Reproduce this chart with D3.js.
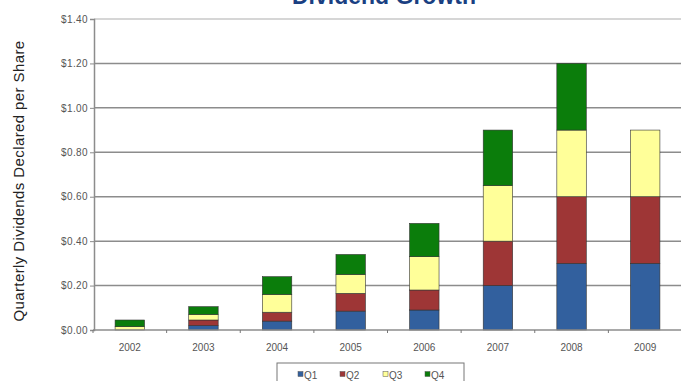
<!DOCTYPE html>
<html><head><meta charset="utf-8">
<script src="https://cdn.jsdelivr.net/npm/d3@7"></script>
<style>body{margin:0;background:#fff;}svg{display:block;font-family:"Liberation Sans",Arial,sans-serif;}</style>
</head><body><svg id="c" width="681" height="381"></svg>
<script>
const years = ["2002","2003","2004","2005","2006","2007","2008","2009"];
const q1 = [0.000, 0.020, 0.040, 0.085, 0.090, 0.20, 0.30, 0.30];
const q2 = [0.000, 0.025, 0.040, 0.080, 0.090, 0.20, 0.30, 0.30];
const q3 = [0.015, 0.025, 0.080, 0.085, 0.150, 0.25, 0.30, 0.30];
const q4 = [0.030, 0.035, 0.080, 0.090, 0.150, 0.25, 0.30, 0.00];
const seriesNames = ["Q1","Q2","Q3","Q4"];
const colors = ["#32609e","#9e3636","#ffff99","#0b7d0b"];
const yTicks = [0,0.2,0.4,0.6,0.8,1.0,1.2,1.4];

const svg = d3.select("#c");
const x = d3.scaleBand().domain(years).range([93,682]).paddingInner(0.6).paddingOuter(0.3);
const xb = d3.scaleBand().domain(years).range([93,682]);
const y = d3.scaleLinear().domain([0,1.4]).range([330,19]);

// gridlines
svg.append("g").selectAll("line").data(yTicks.filter(d=>d>0)).join("line")
  .attr("x1",94).attr("x2",681).attr("y1",d=>y(d)).attr("y2",d=>y(d))
  .attr("stroke",d=>d===1.4?"#c8c8c8":"#8c8c8c").attr("stroke-width",1.5);

// y axis
const ya = svg.append("g").attr("transform","translate(94,0)")
  .call(d3.axisLeft(y).tickValues(yTicks).tickSize(4).tickFormat(d=>"$"+d.toFixed(2)));
ya.select(".domain").attr("stroke","#8c8c8c").attr("stroke-width",1.5);
ya.selectAll(".tick line").attr("stroke","#8c8c8c");
ya.selectAll("text").attr("fill","#555").attr("font-size",10).attr("letter-spacing",0.4).attr("x",-6)
  .attr("font-family","'Liberation Sans',Arial,sans-serif");

// stacked bars
const rows = years.map((yr,i)=>({year:yr,Q1:q1[i],Q2:q2[i],Q3:q3[i],Q4:q4[i]}));
const stack = d3.stack().keys(seriesNames)(rows);
svg.append("g").selectAll("g").data(stack).join("g")
  .attr("fill",(d,i)=>colors[i])
  .selectAll("rect").data(d=>d.filter(s=>s[1]-s[0]>0)).join("rect")
  .attr("x",d=>x(d.data.year)).attr("width",x.bandwidth())
  .attr("y",d=>y(d[1])).attr("height",d=>y(d[0])-y(d[1]))
  .attr("stroke","#333").attr("stroke-width",0.6);

// x axis
const xa = svg.append("g").attr("transform","translate(0,330)");
xa.append("line").attr("x1",93).attr("x2",681).attr("stroke","#8c8c8c").attr("stroke-width",1.5);
xa.selectAll("line.t").data(years).join("line").attr("class","t")
  .attr("x1",d=>xb(d)).attr("x2",d=>xb(d)).attr("y1",0).attr("y2",3).attr("stroke","#777");
xa.selectAll("text").data(years).join("text")
  .attr("x",d=>x(d)+x.bandwidth()/2).attr("y",21).attr("text-anchor","middle")
  .attr("font-size",10).attr("fill","#555").text(d=>d);

// y title
svg.append("text").attr("transform","translate(24,181) rotate(-90)").attr("text-anchor","middle")
  .attr("font-size",15).attr("letter-spacing",0.4).attr("fill","#222").text("Quarterly Dividends Declared per Share");

// title
svg.append("text").attr("x",384).attr("y",4).attr("text-anchor","middle")
  .attr("font-size",23).attr("font-weight","bold").attr("fill","#1a3f82").text("Dividend Growth");

// legend
const lg = svg.append("g");
lg.append("rect").attr("x",277).attr("y",363).attr("width",187).attr("height",24)
  .attr("fill","#fff").attr("stroke","#777").attr("stroke-width",1);
const lx = [298,340,383,425];
const items = lg.selectAll("g").data(seriesNames).join("g")
  .attr("transform",(d,i)=>`translate(${lx[i]},375)`);
items.append("rect").attr("x",0).attr("y",-3.5).attr("width",5).attr("height",5)
  .attr("fill",(d,i)=>colors[i]).attr("stroke","#555").attr("stroke-width",0.5);
items.append("text").attr("x",6).attr("y",3.5).attr("font-size",10).attr("fill","#555").text(d=>d);
</script></body></html>
